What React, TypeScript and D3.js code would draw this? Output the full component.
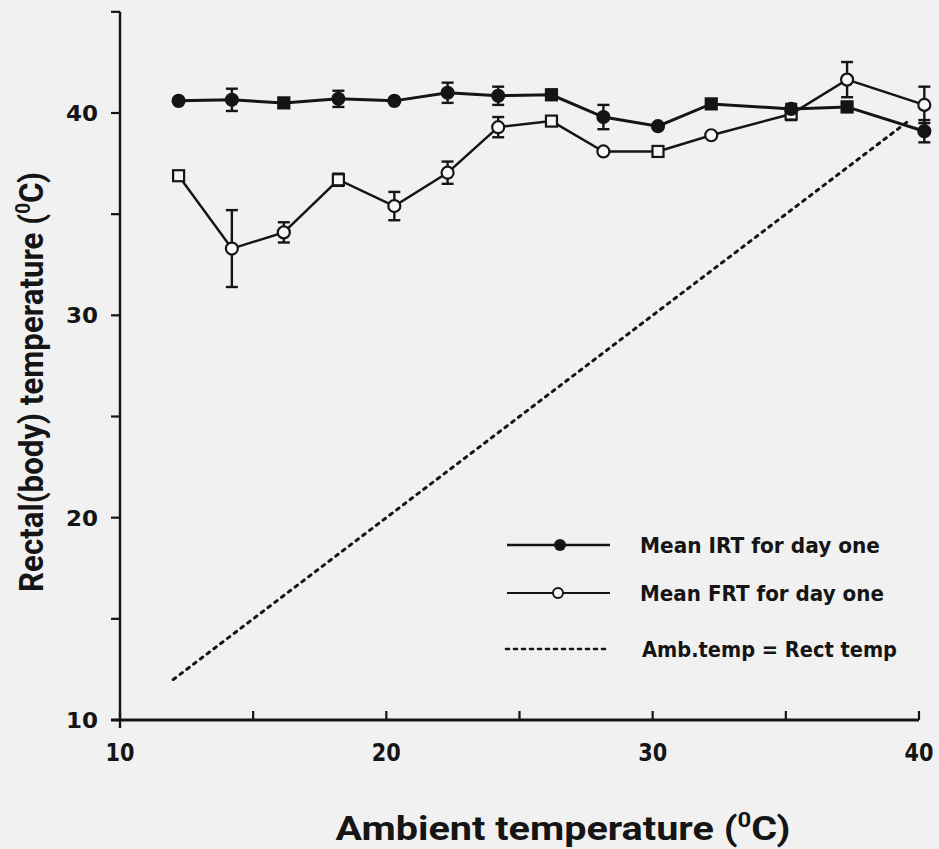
import React from "react";
import * as d3 from "d3";

const ambient = [12.2, 14.2, 16.15, 18.2, 20.3, 22.3, 24.2, 26.2, 28.15, 30.2, 32.2, 35.2, 37.3, 40.2];
const irtMean = [40.6, 40.65, 40.5, 40.7, 40.6, 41.0, 40.85, 40.9, 39.8, 39.35, 40.45, 40.2, 40.3, 39.1];
const irtErr = [0, 0.55, 0, 0.4, 0, 0.5, 0.45, 0.25, 0.6, 0, 0, 0.25, 0.25, 0.55];
const irtMarker = ["c", "c", "s", "c", "c", "c", "c", "s", "c", "c", "s", "c", "s", "c"];
const frtMean = [36.9, 33.3, 34.1, 36.7, 35.4, 37.05, 39.3, 39.6, 38.1, 38.1, 38.9, 39.95, 41.65, 40.4];
const frtErr = [0, 1.9, 0.5, 0.3, 0.7, 0.55, 0.5, 0, 0, 0.2, 0, 0.3, 0.87, 0.9];
const frtMarker = ["s", "c", "c", "s", "c", "c", "c", "s", "c", "s", "c", "s", "c", "c"];
const identityLine = [12, 39.7];
const xTicks = [10, 20, 30, 40];
const xMinorTicks = [15, 25, 35];
const yTicks = [10, 20, 30, 40];
const yMinorTicks = [15, 25, 35, 45];
const legendLabels = ["Mean IRT for day one", "Mean FRT for day one", "Amb.temp = Rect temp"];
const xTitle = "Ambient temperature (";
const yTitle = "Rectal(body) temperature (";

const W = 939;
const H = 849;
const INK = "#151515";
const tickFont = "'DejaVu Sans', 'Open Sans', sans-serif";
const titleFont = "Roboto, 'Liberation Sans', sans-serif";

export default function App() {
  const x = d3.scaleLinear().domain([10, 40]).range([120, 919]);
  const y = d3.scaleLinear().domain([10, 40]).range([720, 113]);

  const line = d3
    .line<number>()
    .x((_, i) => x(ambient[i]))
    .y((d) => y(d))
    .curve(d3.curveLinear);

  const renderMarker = (cx: number, cy: number, shape: string, filled: boolean, key: string) => {
    const fill = filled ? INK : "#f7f7f7";
    if (shape === "s") {
      const s = 11;
      return (
        <rect key={key} x={cx - s / 2} y={cy - s / 2} width={s} height={s} fill={fill} stroke={INK} strokeWidth={2.2} />
      );
    }
    return <circle key={key} cx={cx} cy={cy} r={6} fill={fill} stroke={INK} strokeWidth={2.2} />;
  };

  const renderErr = (xi: number, m: number, e: number, key: string) => {
    if (!e) return null;
    const cx = x(xi);
    const y1 = y(m + e);
    const y2 = y(m - e);
    return (
      <g key={key} stroke={INK} strokeWidth={2.4}>
        <line x1={cx} x2={cx} y1={y1} y2={y2} />
        <line x1={cx - 6} x2={cx + 6} y1={y1} y2={y1} />
        <line x1={cx - 6} x2={cx + 6} y1={y2} y2={y2} />
      </g>
    );
  };

  const axisX = x(10);
  const axisY = y(10);

  return (
    <svg width={W} height={H} style={{ position: "absolute", left: 0, top: 0 }}>
      <rect x={0} y={0} width={W} height={H} fill="#f1f1f1" />

      {/* identity line */}
      <line
        x1={x(identityLine[0])}
        y1={y(identityLine[0])}
        x2={x(identityLine[1])}
        y2={y(identityLine[1])}
        stroke={INK}
        strokeWidth={3}
        strokeDasharray="3 5.5"
        strokeLinecap="round"
      />

      {/* FRT series */}
      <path d={line(frtMean) || ""} fill="none" stroke={INK} strokeWidth={2.4} />
      {frtMean.map((m, i) => renderErr(ambient[i], m, frtErr[i], "fe" + i))}

      {/* IRT series */}
      <path d={line(irtMean) || ""} fill="none" stroke={INK} strokeWidth={3} />
      {irtMean.map((m, i) => renderErr(ambient[i], m, irtErr[i], "ie" + i))}

      {frtMean.map((m, i) => renderMarker(x(ambient[i]), y(m), frtMarker[i], false, "fm" + i))}
      {irtMean.map((m, i) => renderMarker(x(ambient[i]), y(m), irtMarker[i], true, "im" + i))}

      {/* axes */}
      <line x1={axisX} x2={axisX} y1={y(45)} y2={axisY + 8} stroke={INK} strokeWidth={2.4} />
      <line x1={axisX - 9} x2={x(40)} y1={axisY} y2={axisY} stroke={INK} strokeWidth={2.8} />
      {[...yTicks, ...yMinorTicks].map((t) => (
        <line key={"yt" + t} x1={axisX - 9} x2={axisX} y1={y(t)} y2={y(t)} stroke={INK} strokeWidth={2.2} />
      ))}
      {[...xTicks, ...xMinorTicks].map((t) => (
        <line key={"xt" + t} x1={x(t)} x2={x(t)} y1={axisY} y2={axisY - 9} stroke={INK} strokeWidth={2.2} />
      ))}
      {yTicks.map((t) => (
        <text
          key={"yl" + t}
          x={axisX - 22}
          y={y(t)}
          dy="0.36em"
          textAnchor="end"
          fontFamily={tickFont}
          fontWeight={700}
          fontSize={22}
          fill={INK}
          textLength={32}
          lengthAdjust="spacingAndGlyphs"
        >
          {t}
        </text>
      ))}
      {xTicks.map((t) => (
        <text
          key={"xl" + t}
          x={x(t)}
          y={axisY + 41}
          textAnchor="middle"
          fontFamily={tickFont}
          fontWeight={700}
          fontSize={24}
          fill={INK}
          textLength={29}
          lengthAdjust="spacingAndGlyphs"
        >
          {t}
        </text>
      ))}

      {/* axis titles */}
      <text
        x={563}
        y={840}
        textAnchor="middle"
        fontFamily={titleFont}
        fontWeight={700}
        fontSize={33}
        fill={INK}
        textLength={455}
        lengthAdjust="spacingAndGlyphs"
      >
        {xTitle}
        <tspan fontSize={20} dy={-13}>0</tspan>
        <tspan dy={13}>C)</tspan>
      </text>
      <text
        transform={`translate(43, 382) rotate(-90)`}
        textAnchor="middle"
        fontFamily={titleFont}
        fontWeight={700}
        fontSize={33}
        fill={INK}
        textLength={420}
        lengthAdjust="spacingAndGlyphs"
      >
        {yTitle}
        <tspan fontSize={20} dy={-13}>0</tspan>
        <tspan dy={13}>C)</tspan>
      </text>

      {/* legend */}
      <g fontFamily={tickFont} fontWeight={700} fontSize={22} fill={INK}>
        <line x1={507} x2={610} y1={545} y2={545} stroke={INK} strokeWidth={2.6} />
        <circle cx={560} cy={545} r={6} fill={INK} />
        <text x={640} y={545} dy="0.36em" textLength={240} lengthAdjust="spacingAndGlyphs">{legendLabels[0]}</text>

        <line x1={507} x2={610} y1={593} y2={593} stroke={INK} strokeWidth={2.2} />
        <circle cx={558} cy={593} r={5} fill="#f7f7f7" stroke={INK} strokeWidth={2} />
        <text x={640} y={593} dy="0.36em" textLength={244} lengthAdjust="spacingAndGlyphs">{legendLabels[1]}</text>

        <line x1={506} x2={610} y1={649} y2={649} stroke={INK} strokeWidth={2.6} strokeDasharray="3 5" strokeLinecap="round" />
        <text x={642} y={649} dy="0.36em" textLength={255} lengthAdjust="spacingAndGlyphs">{legendLabels[2]}</text>
      </g>
    </svg>
  );
}
